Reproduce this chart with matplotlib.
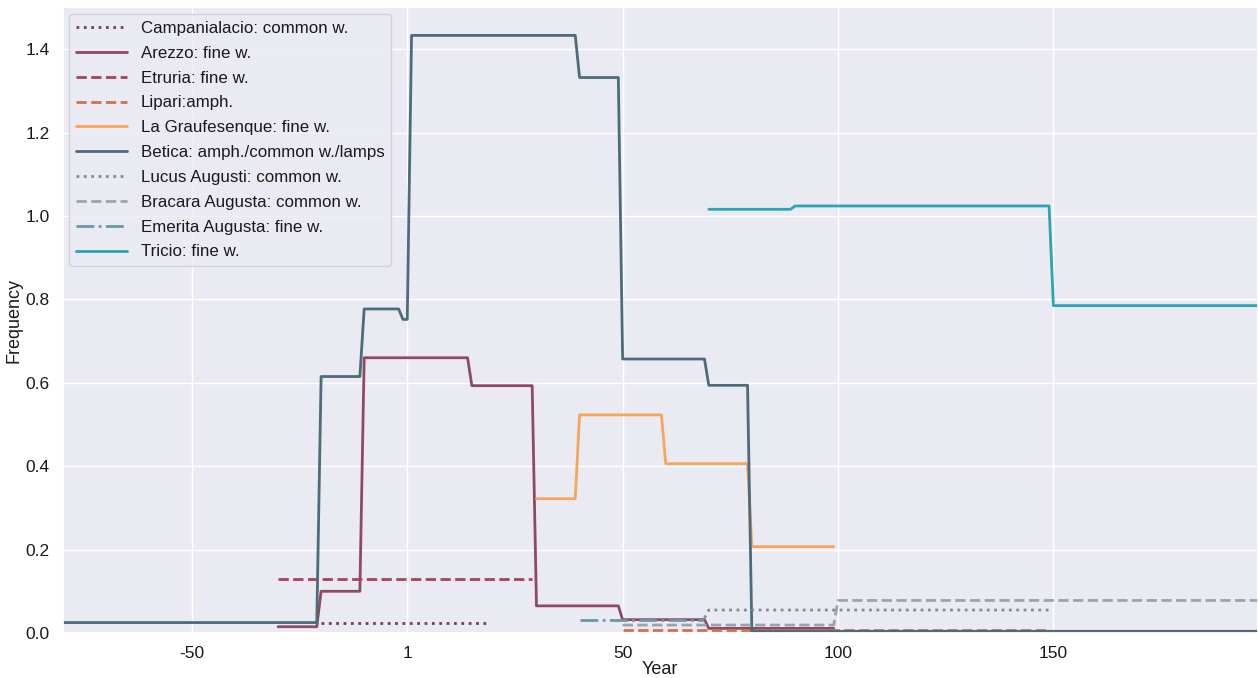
import matplotlib
matplotlib.use("Agg")
import matplotlib.pyplot as plt
import seaborn as sns

# ---------------- step series: (year, frequency) vertices ----------------
campania_x = [-20, 19]
campania_y = [0.023, 0.023]

arezzo_x = [-30, -21, -20, -11, -10, 14, 15, 29, 30, 49, 50, 69, 70, 99]
arezzo_y = [0.015, 0.015, 0.10, 0.10, 0.66, 0.66, 0.593, 0.593, 0.065, 0.065, 0.032, 0.032, 0.011, 0.011]

etruria_x = [-30, 29]
etruria_y = [0.13, 0.13]

lipari_x = [50, 149]
lipari_y = [0.008, 0.008]

graufesenque_x = [30, 39, 40, 59, 60, 79, 80, 99]
graufesenque_y = [0.322, 0.322, 0.523, 0.523, 0.406, 0.406, 0.207, 0.207]

betica_x = [-80, -21, -20, -11, -10, -2, -1, 0, 1, 39, 40, 49, 50, 69, 70, 79, 80, 200]
betica_y = [0.025, 0.025, 0.615, 0.615, 0.777, 0.777, 0.752, 0.752, 1.433, 1.433, 1.332, 1.332,
            0.657, 0.657, 0.594, 0.594, 0.004, 0.004]

lucus_x = [69, 70, 149]
lucus_y = [0.036, 0.055, 0.055]

bracara_x = [50, 99, 100, 200]
bracara_y = [0.019, 0.019, 0.078, 0.078]

emerita_x = [40, 69]
emerita_y = [0.031, 0.031]

tricio_x = [70, 89, 90, 149, 150, 200]
tricio_y = [1.016, 1.016, 1.024, 1.024, 0.785, 0.785]

year_ticks = [-50, 0, 50, 100, 150]
year_labels = ["-50", "1", "50", "100", "150"]

# ---------------- figure ----------------
sns.set_theme(style="darkgrid")
plt.rcParams['font.family'] = ['Liberation Sans', 'DejaVu Sans']
plt.rcParams['text.color'] = '#1a1a1a'
plt.rcParams['xtick.color'] = '#1a1a1a'
plt.rcParams['ytick.color'] = '#1a1a1a'
plt.rcParams['axes.labelcolor'] = '#1a1a1a'

fig = plt.figure(figsize=(12.58, 6.78), dpi=100)
ax = fig.add_axes([0.0498, 0.0664, 0.9502, 0.9226])

lw = 2.0
ax.plot(campania_x, campania_y, ':', color='#7b3b50', lw=lw, label='Campanialacio: common w.')
ax.plot(arezzo_x, arezzo_y, '-', color='#8e4a63', lw=lw, label='Arezzo: fine w.')
ax.plot(etruria_x, etruria_y, '--', color='#a8435b', lw=lw, label='Etruria: fine w.')
ax.plot(lipari_x, lipari_y, '--', color='#d0714f', lw=lw, label='Lipari:amph.')
ax.plot(graufesenque_x, graufesenque_y, '-', color='#f8a55c', lw=lw, label='La Graufesenque: fine w.')
ax.plot(betica_x, betica_y, '-', color='#4d6b78', lw=lw, label='Betica: amph./common w./lamps')
ax.plot(lucus_x, lucus_y, ':', color='#7f8c9c', lw=lw, label='Lucus Augusti: common w.')
ax.plot(bracara_x, bracara_y, '--', color='#9da3ae', lw=lw, label='Bracara Augusta: common w.')
ax.plot(emerita_x, emerita_y, '-.', color='#6a98a6', lw=lw, label='Emerita Augusta: fine w.')
ax.plot(tricio_x, tricio_y, '-', color='#2aa5b3', lw=lw, label='Tricio: fine w.')

ax.set_xlim(-80, 197.5)
ax.set_ylim(0, 1.5)
ax.set_xticks(year_ticks)
ax.set_xticklabels(year_labels)
ax.set_yticks([0.0, 0.2, 0.4, 0.6, 0.8, 1.0, 1.2, 1.4])
ax.tick_params(labelsize=12.5)
ax.set_xlabel('Year', fontsize=13, labelpad=0)
ax.set_ylabel('Frequency', fontsize=13, labelpad=2)

ax.legend(loc='upper left', fontsize=12.2, handlelength=3.0, handletextpad=0.8,
          labelspacing=0.58, borderaxespad=0.4)

fig.savefig('out.png', dpi=100)
